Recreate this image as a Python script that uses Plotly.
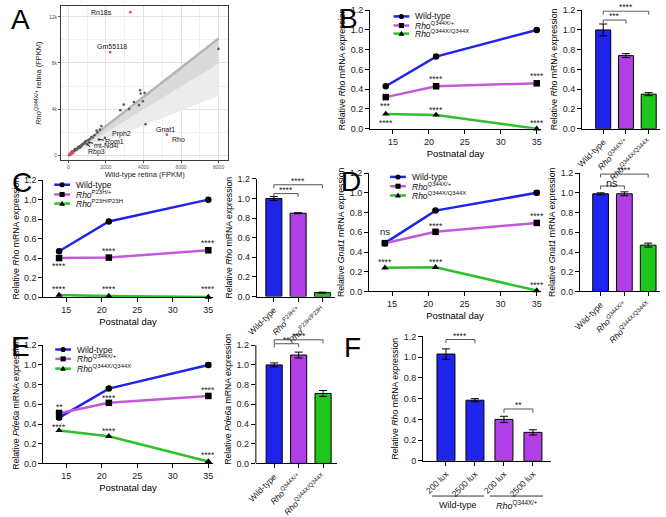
import plotly.graph_objects as go

W, H = 666, 517
FONT = "Arial, Liberation Sans, sans-serif"

# ---------------- DATA ----------------
# Panel A: scatter of FPKM
a_dark_x = [7990, 4110, 2770, 2950, 3240, 3490, 3760, 3820, 3850, 3970, 4060,
            1760, 1680, 1550, 1400, 1230, 1060, 880, 700, 530, 350, 180,
            1950, 1500, 1620, 1100, 1010, 1300, 950, 820, 760, 600, 480, 420,
            380, 300, 260, 220, 150, 120, 90, 640, 560, 700, 900, 1150, 450, 330]
a_dark_y = [9220, 2700, 3920, 4400, 4010, 4630, 4350, 5640, 5360, 4690, 5410,
            2540, 2230, 1980, 1750, 1600, 1330, 1190, 900, 720, 550, 340,
            1520, 2150, 1380, 1120, 955, 1550, 1250, 1000, 980, 780, 600, 560,
            470, 380, 330, 280, 200, 170, 120, 700, 650, 820, 1050, 1400, 520, 420]
a_red_x = [3300, 2230, 5250, 60, 100, 150, 200, 80, 250, 120, 40, 180]
a_red_y = [12400, 8940, 1800, 80, 150, 120, 250, 30, 180, 60, 20, 300]
a_fit_x = [0, 8000]
a_fit_y = [0, 10120]
a_ci_mid = [0, 7950]
a_ci_low = [0, 5160]
a_labels = [  # gene, x, y, text x-offset px, text y-offset px, arrow
    ("Rn18s", 3300, 12400, -16, 0, False),
    ("Gm55118", 2230, 8940, 2, -6, False),
    ("Gnat1", 4110, 2700, 8, 5, False),
    ("Rho", 5250, 1800, 3, 5, False),
    ("Prph2", 1500, 2150, 14, 3, False),
    ("Rom1", 1620, 1380, 16, 1.6, True),
    ("mt-Nd4l", 1100, 1120, 18, 3.3, True),
    ("Rbp3", 1010, 955, 9.4, 8, True),
]

days = [14, 21, 35]
B_wt = [0.43, 0.73, 1.00]; B_het = [0.32, 0.43, 0.46]; B_hom = [0.15, 0.14, 0.00]
C_wt = [0.47, 0.775, 1.00]; C_het = [0.40, 0.405, 0.48]; C_hom = [0.02, 0.01, 0.00]
D_wt = [0.49, 0.82, 1.00]; D_het = [0.49, 0.605, 0.695]; D_hom = [0.24, 0.245, 0.01]
E_wt = [0.465, 0.76, 1.00]; E_het = [0.51, 0.615, 0.685]; E_hom = [0.335, 0.275, 0.02]
D_wt_err = [0.01, 0.01, 0.02]
E_wt_err = [0.02, 0.01, 0.02]
E_het_err = [0.03, 0.01, 0.01]

B_bar = [1.00, 0.74, 0.35]; B_bar_err = [0.06, 0.02, 0.015]
C_bar = [1.00, 0.85, 0.04]; C_bar_err = [0.02, 0.005, 0.005]
D_bar = [0.99, 0.99, 0.47]; D_bar_err = [0.01, 0.02, 0.02]
E_bar = [1.00, 1.10, 0.71]; E_bar_err = [0.02, 0.03, 0.03]
F_bar = [1.03, 0.585, 0.40, 0.275]; F_bar_err = [0.05, 0.015, 0.03, 0.025]
F_labels = ["200 lux", "2500 lux", "200 lux", "2500 lux"]

Q_cats = ["Wild-type", "<i>Rho</i><sup>Q344X/+</sup>", "<i>Rho</i><sup>Q344X/Q344X</sup>"]
P_cats = ["Wild-type", "<i>Rho</i><sup>P23H/+</sup>", "<i>Rho</i><sup>P23H/P23H</sup>"]

# significance marks on line plots: (day, y, text)
B_sig = [(14, 0.247, "***"), (14, 0.083, "****"), (21, 0.52, "****"), (21, 0.205, "****"),
         (35, 0.555, "****"), (35, 0.083, "****")]
C_sig = [(14, 0.34, "****"), (14, 0.10, "****"), (21, 0.49, "****"), (21, 0.10, "****"),
         (35, 0.575, "****"), (35, 0.10, "****")]
D_sig = [(14, 0.61, "ns"), (21, 0.686, "****"), (35, 0.79, "****"), (14, 0.323, "****"),
         (21, 0.323, "****"), (35, 0.089, "****")]
E_sig = [(14, 0.595, "**"), (21, 0.68, "****"), (35, 0.77, "****"), (14, 0.39, "****"),
         (21, 0.35, "****"), (35, 0.11, "****")]

# brackets on bar plots: (i, j, level, text)
B_br = [(0, 1, 1.10, "***"), (0, 2, 1.19, "****")]
C_br = [(0, 1, 1.05, "****"), (0, 2, 1.14, "****")]
D_br = [(0, 1, 1.07, "ns"), (0, 2, 1.19, "****")]
E_br = [(0, 1, 1.215, "**"), (0, 2, 1.255, "****")]
F_br = [(0, 1, 1.17, "****"), (2, 3, 0.50, "**")]

BLUE = "#1f24ec"
PURPLE_L = "#c25ad8"
GREEN_L = "#2fbf2f"
PURPLE_B = "#b23ee8"
GREEN_B = "#1ec61e"

# ---------------- HELPERS ----------------
def xdom(a, b):
    return [a / W, b / W]

def ydom(top, bot):
    return [1 - bot / H, 1 - top / H]

def PX(x):
    return x / W

def PY(y):
    return 1 - y / H

fig = go.Figure()
layout = dict(width=W, height=H, margin=dict(l=0, r=0, t=0, b=0), autosize=False,
              paper_bgcolor="white", plot_bgcolor="white", showlegend=False,
              font=dict(family=FONT, size=9, color="black"))
shapes = []
annots = []

def axis_common():
    return dict(showline=True, linecolor="black", linewidth=1, ticks="outside",
                ticklen=4, tickwidth=1, tickcolor="black", showgrid=False,
                zeroline=False, tickfont=dict(size=9, family=FONT, color="#222"))

yt = [0, 0.2, 0.4, 0.6, 0.8, 1.0, 1.2]
ytt = ["%.1f" % v for v in yt]

def line_panel(n, xpx, ypx, wt, het, hom, ylab, sig, errs=None):
    xa = "xaxis%d" % n
    ya = "yaxis%d" % n
    layout[xa] = dict(axis_common(), domain=xdom(*xpx), range=[11.8, 35.6],
                      tickvals=[15, 20, 25, 30, 35], anchor="y%d" % n,
                      title=dict(text="Postnatal day", font=dict(size=9.5), standoff=4))
    layout[ya] = dict(axis_common(), domain=ydom(*ypx), range=[0, 1.2], tickvals=yt,
                      ticktext=ytt, anchor="x%d" % n,
                      title=dict(text=ylab, font=dict(size=8.7), standoff=3))
    errs = errs or {}
    for vals, col, sym, key in [(wt, BLUE, "circle", "wt"), (het, PURPLE_L, "square", "het"),
                                (hom, GREEN_L, "triangle-up", "hom")]:
        tr = go.Scatter(x=days, y=vals, mode="lines+markers", xaxis="x%d" % n, yaxis="y%d" % n,
                        line=dict(color=col, width=2.5),
                        marker=dict(color="black", symbol=sym, size=6.5),
                        cliponaxis=False, hoverinfo="skip")
        if key in errs:
            tr.error_y = dict(type="data", array=errs[key], color="black", thickness=1, width=3)
        fig.add_trace(tr)
    for (d, yv, t) in sig:
        annots.append(dict(x=d, y=yv, xref="x%d" % n, yref="y%d" % n, text=t,
                           showarrow=False, font=dict(size=8.5 if t != "ns" else 9.5, color="#222"),
                           yshift=-2 if t != "ns" else 0))

def legend_block(x0, ys, labels, colors, symbols):
    for lab, yy, col, sym in zip(labels, ys, colors, symbols):
        shapes.append(dict(type="line", xref="paper", yref="paper", x0=PX(x0), x1=PX(x0 + 16),
                           y0=PY(yy), y1=PY(yy), line=dict(color=col, width=2.5)))
        cx = x0 + 8
        r = 2.6
        if sym == "circle":
            shapes.append(dict(type="circle", xref="paper", yref="paper", x0=PX(cx - r), x1=PX(cx + r),
                               y0=PY(yy + r), y1=PY(yy - r), fillcolor="black", line=dict(width=0)))
        elif sym == "square":
            shapes.append(dict(type="rect", xref="paper", yref="paper", x0=PX(cx - r), x1=PX(cx + r),
                               y0=PY(yy + r), y1=PY(yy - r), fillcolor="black", line=dict(width=0)))
        else:
            path = "M %f,%f L %f,%f L %f,%f Z" % (PX(cx - 3), PY(yy + 2.2), PX(cx + 3), PY(yy + 2.2),
                                                  PX(cx), PY(yy - 3))
            shapes.append(dict(type="path", xref="paper", yref="paper", path=path,
                               fillcolor="black", line=dict(width=0)))
        annots.append(dict(x=PX(x0 + 20), y=PY(yy), xref="paper", yref="paper", text=lab,
                           showarrow=False, xanchor="left", yanchor="middle",
                           font=dict(size=8.5, color="#111")))

def bar_panel(n, xpx, ypx, vals, errs, cats, colors, xr, ylab, brackets, width=0.66,
              ytop=1.2, ytick_text=None, tickangle=-45):
    xa = "xaxis%d" % n
    ya = "yaxis%d" % n
    top, bot = ypx
    pxunit = (bot - top) / 1.2
    top_ext = top - (ytop - 1.2) * pxunit
    idx = list(range(len(vals)))
    layout[xa] = dict(axis_common(), domain=xdom(*xpx), range=xr, tickvals=idx, ticktext=cats,
                      tickangle=tickangle, anchor="y%d" % n,
                      tickfont=dict(size=8.5, family=FONT, color="#222"))
    yax = dict(axis_common(), domain=ydom(top_ext, bot), range=[0, ytop], tickvals=yt,
               ticktext=ytick_text or ytt, anchor="x%d" % n,
               title=dict(text=ylab, font=dict(size=8.7), standoff=3))
    if ytop > 1.2:
        yax["showline"] = False
        shapes.append(dict(type="line", xref="x%d domain" % n, yref="y%d" % n, x0=0, x1=0,
                           y0=0, y1=1.2, line=dict(color="black", width=1)))
    layout[ya] = yax
    fig.add_trace(go.Bar(x=idx, y=vals, xaxis="x%d" % n, yaxis="y%d" % n, width=width,
                         marker=dict(color=colors, line=dict(color="black", width=1)),
                         error_y=dict(type="data", array=errs, color="black", thickness=1, width=4),
                         hoverinfo="skip"))
    for (i, j, lev, t) in brackets:
        d = 0.035
        fig.add_trace(go.Scatter(x=[i, i, j, j], y=[lev - d, lev, lev, lev - d], mode="lines",
                                 xaxis="x%d" % n, yaxis="y%d" % n,
                                 line=dict(color="#555", width=1), hoverinfo="skip"))
        if t == "ns":
            annots.append(dict(x=(i + j) / 2, y=lev, xref="x%d" % n, yref="y%d" % n, text=t,
                               showarrow=False, yanchor="middle", yshift=3,
                               font=dict(size=11, color="#222")))
        else:
            annots.append(dict(x=(i + j) / 2, y=lev, xref="x%d" % n, yref="y%d" % n, text=t,
                               showarrow=False, yanchor="bottom", yshift=-3,
                               font=dict(size=8.5, color="#222")))

# ---------------- PANEL A ----------------
fig.add_trace(go.Scatter(x=a_fit_x + a_fit_x[::-1], y=a_fit_y + a_ci_low[::-1], fill="toself",
                         fillcolor="#ececec", line=dict(width=0), mode="lines", hoverinfo="skip"))
fig.add_trace(go.Scatter(x=a_fit_x + a_fit_x[::-1], y=a_fit_y + a_ci_mid[::-1], fill="toself",
                         fillcolor="#dadada", line=dict(width=0), mode="lines", hoverinfo="skip"))
fig.add_trace(go.Scatter(x=a_fit_x, y=a_fit_y, mode="lines", line=dict(color="#b5b5b5", width=2.5),
                         hoverinfo="skip"))
fig.add_trace(go.Scatter(x=a_dark_x, y=a_dark_y, mode="markers",
                         marker=dict(color="#5a5a5a", size=2.6), hoverinfo="skip"))
fig.add_trace(go.Scatter(x=a_red_x, y=a_red_y, mode="markers",
                         marker=dict(color="#e5484f", size=2.6), hoverinfo="skip"))
layout["xaxis"] = dict(domain=xdom(52, 222), range=[-382, 8518], dtick=2000, tick0=0,
                       showgrid=True, gridcolor="#e3e3e3", gridwidth=0.8,
                       minor=dict(dtick=1000, showgrid=True, gridcolor="#f1f1f1", gridwidth=0.6),
                       zeroline=False, showline=True, mirror=True, linecolor="#3a3a3a", linewidth=1.3,
                       ticks="outside", ticklen=2, tickcolor="#555",
                       tickfont=dict(size=5, color="#555"), anchor="y",
                       title=dict(text="Wild-type retina (FPKM)", font=dict(size=7.5, color="#222"),
                                  standoff=1))
layout["yaxis"] = dict(domain=ydom(1, 159), range=[-423, 12934], dtick=4000, tick0=0,
                       showgrid=True, gridcolor="#e3e3e3", gridwidth=0.8,
                       minor=dict(dtick=2000, showgrid=True, gridcolor="#f1f1f1", gridwidth=0.6),
                       zeroline=False, showline=True, mirror=True, linecolor="#3a3a3a", linewidth=1.3,
                       ticks="outside", ticklen=2, tickcolor="#555",
                       tickfont=dict(size=5, color="#555"), anchor="x",
                       title=dict(text="<i>Rho</i><sup>Q344X/+</sup> retina (FPKM)",
                                  font=dict(size=7.5, color="#222"), standoff=6))
for (g, gx, gy, ox, oy, arrow) in a_labels:
    if arrow:
        annots.append(dict(x=gx, y=gy, xref="x", yref="y", text=g, showarrow=True, arrowhead=0,
                           arrowwidth=1, arrowcolor="#111", ax=ox, ay=oy, standoff=0,
                           font=dict(size=7, color="#111")))
    else:
        annots.append(dict(x=gx, y=gy, xref="x", yref="y", text=g, showarrow=False,
                           xshift=ox, yshift=-oy, font=dict(size=7, color="#111"),
                           xanchor="right" if ox < 0 else ("left" if ox > 2 else "center")))

# ---------------- PANELS B-E ----------------
q_leg = ["Wild-type", "<i>Rho</i><sup>Q344X/+</sup>", "<i>Rho</i><sup>Q344X/Q344X</sup>"]
p_leg = ["Wild-type", "<i>Rho</i><sup>P23H/+</sup>", "<i>Rho</i><sup>P23H/P23H</sup>"]
lcols = [BLUE, PURPLE_L, GREEN_L]
syms = ["circle", "square", "triangle"]
bcols = [BLUE, PURPLE_B, GREEN_B]

line_panel(2, (366, 540), (5.3, 126.7), B_wt, B_het, B_hom,
           "Relative <i>Rho</i> mRNA expression", B_sig)
legend_block(390, [11.7, 21, 29.3], q_leg, lcols, syms)
bar_panel(3, (581.7, 661), (5.3, 126.7), B_bar, B_bar_err, Q_cats, bcols, [-0.93, 2.5],
          "Relative <i>Rho</i> mRNA expression", B_br)

line_panel(4, (34, 206), (179.3, 299), C_wt, C_het, C_hom,
           "Relative <i>Rho</i> mRNA expression", C_sig)
legend_block(45, [184, 194, 203.3], p_leg, lcols, syms)
bar_panel(5, (251, 330), (178, 298.5), C_bar, C_bar_err, P_cats, bcols, [-0.7, 2.5],
          "Relative <i>Rho</i> mRNA expression", C_br)

line_panel(6, (365, 540), (172.1, 293.3), D_wt, D_het, D_hom,
           "Relative <i>Gnat1</i> mRNA expression", D_sig, errs={"wt": D_wt_err})
legend_block(386.5, [176, 185.5, 195], q_leg, lcols, syms)
bar_panel(7, (579.7, 661), (172.1, 293.3), D_bar, D_bar_err, Q_cats, bcols, [-0.86, 2.5],
          "Relative <i>Gnat1</i> mRNA expression", D_br)

line_panel(8, (34, 206), (348.3, 469.3), E_wt, E_het, E_hom,
           "Relative <i>Pde6a</i> mRNA expression", E_sig, errs={"wt": E_wt_err, "het": E_het_err})
legend_block(46, [352.7, 362.3, 372.3], q_leg, lcols, syms)
bar_panel(9, (250, 332), (348.3, 469.3), E_bar, E_bar_err, Q_cats, bcols, [-0.75, 2.55],
          "Relative <i>Pde6a</i> mRNA expression", E_br, ytop=1.3)

# ---------------- PANEL F ----------------
bar_panel(10, (420, 550), (339.3, 466.7), F_bar, F_bar_err, F_labels,
          [BLUE, BLUE, PURPLE_B, PURPLE_B], [-0.79, 3.62],
          "Relative <i>Rho</i> mRNA expression", F_br, width=0.62,
          ytick_text=["0", "0.2", "0.4", "0.6", "0.8", "1.0", "1.2"], tickangle=-45)
F_groups = [(-0.48, 1.31, "Wild-type"), (1.52, 3.35, "<i>Rho</i><sup>Q344X/+</sup>")]
for (g0, g1, gl) in F_groups:
    shapes.append(dict(type="line", xref="x10", yref="paper", x0=g0, x1=g1, y0=PY(502.7), y1=PY(502.7),
                       line=dict(color="#333", width=1)))
    annots.append(dict(x=(g0 + g1) / 2, y=PY(511.5), xref="x10", yref="paper", text=gl,
                       showarrow=False, yanchor="middle", font=dict(size=9, color="#111")))

# ---------------- PANEL LETTERS ----------------
for (lt, lx, ly) in [("A", 11, 15), ("B", 344, 14), ("C", 12, 182), ("D", 347, 181),
                     ("E", 11, 350), ("F", 348, 351)]:
    annots.append(dict(x=PX(lx), y=PY(ly), xref="paper", yref="paper", text=lt, showarrow=False,
                       xanchor="center", yanchor="middle", font=dict(size=28, color="black", family=FONT)))

layout["shapes"] = shapes
layout["annotations"] = annots
fig.update_layout(**layout)
fig.write_html("out.html")
